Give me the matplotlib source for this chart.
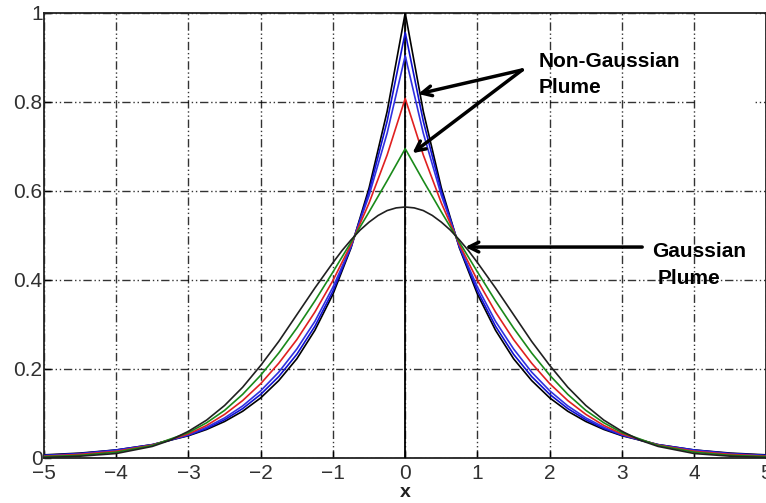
import matplotlib
matplotlib.use("Agg")
import matplotlib.pyplot as plt
from matplotlib.patches import Rectangle

plt.rcParams['font.family'] = ['Liberation Sans', 'DejaVu Sans']

x_vals = [-5, -4.5, -4, -3.5, -3, -2.75, -2.5, -2.25, -2, -1.75, -1.5, -1.25, -1, -0.75, -0.5, -0.25,
          0, 0.25, 0.5, 0.75, 1, 1.25, 1.5, 1.75, 2, 2.25, 2.5, 2.75, 3, 3.5, 4, 4.5, 5]

peak_black = [0.007, 0.011, 0.018, 0.030, 0.050, 0.064, 0.082, 0.105, 0.135, 0.174, 0.223, 0.287, 0.368, 0.472, 0.607, 0.779,
              1.000, 0.779, 0.607, 0.472, 0.368, 0.287, 0.223, 0.174, 0.135, 0.105, 0.082, 0.064, 0.050, 0.030, 0.018, 0.011, 0.007]
blue_1 = [0.006, 0.010, 0.018, 0.030, 0.051, 0.066, 0.086, 0.111, 0.143, 0.183, 0.233, 0.296, 0.375, 0.474, 0.599, 0.757,
          0.956, 0.757, 0.599, 0.474, 0.375, 0.296, 0.233, 0.183, 0.143, 0.111, 0.086, 0.066, 0.051, 0.030, 0.018, 0.010, 0.006]
blue_2 = [0.005, 0.009, 0.017, 0.029, 0.052, 0.069, 0.090, 0.117, 0.151, 0.193, 0.245, 0.307, 0.384, 0.476, 0.590, 0.730,
          0.904, 0.730, 0.590, 0.476, 0.384, 0.307, 0.245, 0.193, 0.151, 0.117, 0.090, 0.069, 0.052, 0.029, 0.017, 0.009, 0.005]
red_vals = [0.004, 0.008, 0.015, 0.029, 0.054, 0.073, 0.098, 0.129, 0.167, 0.213, 0.266, 0.328, 0.399, 0.480, 0.573, 0.681,
            0.808, 0.681, 0.573, 0.480, 0.399, 0.328, 0.266, 0.213, 0.167, 0.129, 0.098, 0.073, 0.054, 0.029, 0.015, 0.008, 0.004]
green_vals = [0.003, 0.006, 0.013, 0.028, 0.057, 0.079, 0.107, 0.143, 0.186, 0.236, 0.292, 0.353, 0.418, 0.485, 0.553, 0.623,
              0.695, 0.623, 0.553, 0.485, 0.418, 0.353, 0.292, 0.236, 0.186, 0.143, 0.107, 0.079, 0.057, 0.028, 0.013, 0.006, 0.003]

gauss_x = [-5, -4.5, -4, -3.5, -3.25, -3, -2.75, -2.5, -2.25, -2, -1.75, -1.5, -1.25, -1, -0.875, -0.75, -0.625,
           -0.5, -0.375, -0.25, -0.125, 0, 0.125, 0.25, 0.375, 0.5, 0.625, 0.75, 0.875, 1, 1.25, 1.5, 1.75,
           2, 2.25, 2.5, 2.75, 3, 3.25, 3.5, 4, 4.5, 5]
gauss_vals = [0.001, 0.004, 0.010, 0.026, 0.040, 0.060, 0.085, 0.118, 0.159, 0.208, 0.262, 0.322, 0.382, 0.439, 0.466,
              0.490, 0.512, 0.530, 0.545, 0.556, 0.562, 0.564, 0.562, 0.556, 0.545, 0.530, 0.512, 0.490, 0.466,
              0.439, 0.382, 0.322, 0.262, 0.208, 0.159, 0.118, 0.085, 0.060, 0.040, 0.026, 0.010, 0.004, 0.001]
center_x = [0, 0]
center_y = [0, 1]

x_ticks = [-5, -4, -3, -2, -1, 0, 1, 2, 3, 4, 5]
y_ticks = [0, 0.2, 0.4, 0.6, 0.8, 1]
y_tick_labels = ['0', '0.2', '0.4', '0.6', '0.8', '1']

fig = plt.figure(figsize=(7.66, 5.03), dpi=100)
ax = fig.add_axes([0.0574, 0.0895, 0.9432, 0.8847])

lw = 1.2
ax.plot(center_x, center_y, color='black', lw=1.3, zorder=3)
ax.plot(x_vals, peak_black, color='black', lw=lw, zorder=3)
ax.plot(x_vals, blue_1, color='#1010d0', lw=lw, zorder=3)
ax.plot(x_vals, blue_2, color='#3030e0', lw=lw, zorder=3)
ax.plot(x_vals, red_vals, color='#e02020', lw=lw, zorder=3)
ax.plot(x_vals, green_vals, color='#1a8a1a', lw=lw, zorder=3)
ax.plot(gauss_x, gauss_vals, color='#202020', lw=lw, zorder=3)

ax.set_xlim(-5, 5)
ax.set_ylim(0, 1)
ax.set_xticks(x_ticks)
ax.set_yticks(y_ticks)
ax.set_yticklabels(y_tick_labels)
ax.tick_params(direction='in', length=5, width=1, labelsize=15, labelcolor='#303030')
ax.tick_params(axis='x', pad=4)
ax.tick_params(axis='y', pad=1)
ax.grid(True, color='black', lw=1.0, alpha=0.8, linestyle=(0, (6, 2, 1, 2, 1, 2)))
for s in ax.spines.values():
    s.set_color('#222222')
    s.set_linewidth(1.3)
ax.set_xlabel('x', fontsize=14, fontweight='bold', labelpad=1, color='#202020')

# white patch that hides part of the grid (as in the reference)
ax.add_patch(Rectangle((4.02, 0.697), 0.79, 0.31, facecolor='white', edgecolor='none', zorder=2.5))

arrow_kw = dict(arrowstyle='->,head_length=0.7,head_width=0.35', color='black', lw=2.5,
                shrinkA=0, shrinkB=0)
ax.annotate('', xy=(0.18, 0.818), xytext=(1.62, 0.872), arrowprops=arrow_kw, zorder=4)
ax.annotate('', xy=(0.10, 0.685), xytext=(1.62, 0.872), arrowprops=arrow_kw, zorder=4)
ax.annotate('', xy=(0.83, 0.474), xytext=(3.28, 0.474), arrowprops=arrow_kw, zorder=4)

txt_kw = dict(fontsize=15, fontweight='bold', color='black', va='top', ha='left', zorder=5)
ax.text(1.84, 0.912, 'Non-Gaussian', **txt_kw)
ax.text(1.84, 0.855, 'Plume', **txt_kw)
ax.text(3.42, 0.485, 'Gaussian', **txt_kw)
ax.text(3.49, 0.424, 'Plume', **txt_kw)

fig.savefig('out.png', dpi=100)
